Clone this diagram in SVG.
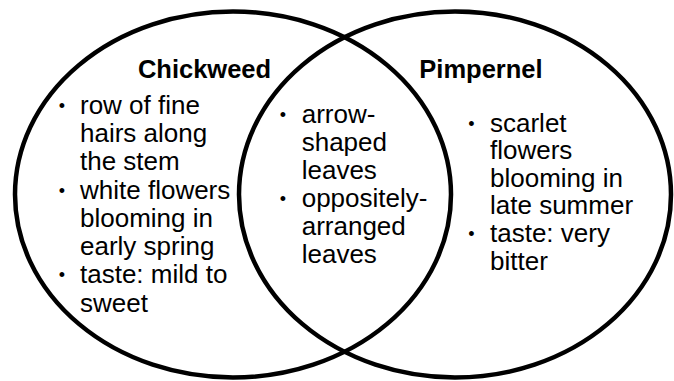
<svg xmlns="http://www.w3.org/2000/svg" width="674" height="381" viewBox="0 0 674 381">
<style>
.ring{fill:none;stroke:#000;stroke-width:4.5}
.t{font-family:"Liberation Sans",Arial,Helvetica,sans-serif;font-size:26px;fill:#000}
.h{font-family:"Liberation Sans",Arial,Helvetica,sans-serif;font-size:25.5px;font-weight:bold;fill:#000;text-anchor:middle}
.b{font-family:"Liberation Sans",Arial,Helvetica,sans-serif;font-size:18px;fill:#000;text-anchor:middle}
</style>
<rect width="674" height="381" fill="#fff"/>
<g id="chickweed">
<ellipse class="ring" cx="233" cy="194.5" rx="218" ry="183"/>
<text class="h" x="204.5" y="78">Chickweed</text>
<text class="b" x="62" y="111.6">•</text>
<text class="b" x="62" y="196.5">•</text>
<text class="b" x="62" y="281.4">•</text>
<text class="t" x="80" y="113.6">row of fine</text>
<text class="t" x="80" y="141.9">hairs along</text>
<text class="t" x="80" y="170.2">the stem</text>
<text class="t" x="80" y="198.5">white flowers</text>
<text class="t" x="80" y="226.8">blooming in</text>
<text class="t" x="80" y="255.1">early spring</text>
<text class="t" x="80" y="283.4">taste: mild to</text>
<text class="t" x="80" y="311.7">sweet</text>
</g>
<g id="pimpernel">
<ellipse class="ring" cx="455" cy="194.5" rx="216" ry="183"/>
<text class="h" x="481" y="78">Pimpernel</text>
<text class="b" x="471.3" y="129.5">•</text>
<text class="b" x="471.3" y="239.9">•</text>
<text class="t" x="490" y="131.5">scarlet</text>
<text class="t" x="490" y="159.1">flowers</text>
<text class="t" x="490" y="186.7">blooming in</text>
<text class="t" x="490" y="214.3">late summer</text>
<text class="t" x="490" y="241.9">taste: very</text>
<text class="t" x="490" y="269.5">bitter</text>
</g>
<g id="both">
<text class="b" x="283" y="120.5">•</text>
<text class="b" x="283" y="204.5">•</text>
<text class="t" x="301.7" y="122.5">arrow-</text>
<text class="t" x="301.7" y="150.5">shaped</text>
<text class="t" x="301.7" y="178.5">leaves</text>
<text class="t" x="301.7" y="206.5">oppositely-</text>
<text class="t" x="301.7" y="234.5">arranged</text>
<text class="t" x="301.7" y="262.5">leaves</text>
</g>
</svg>
